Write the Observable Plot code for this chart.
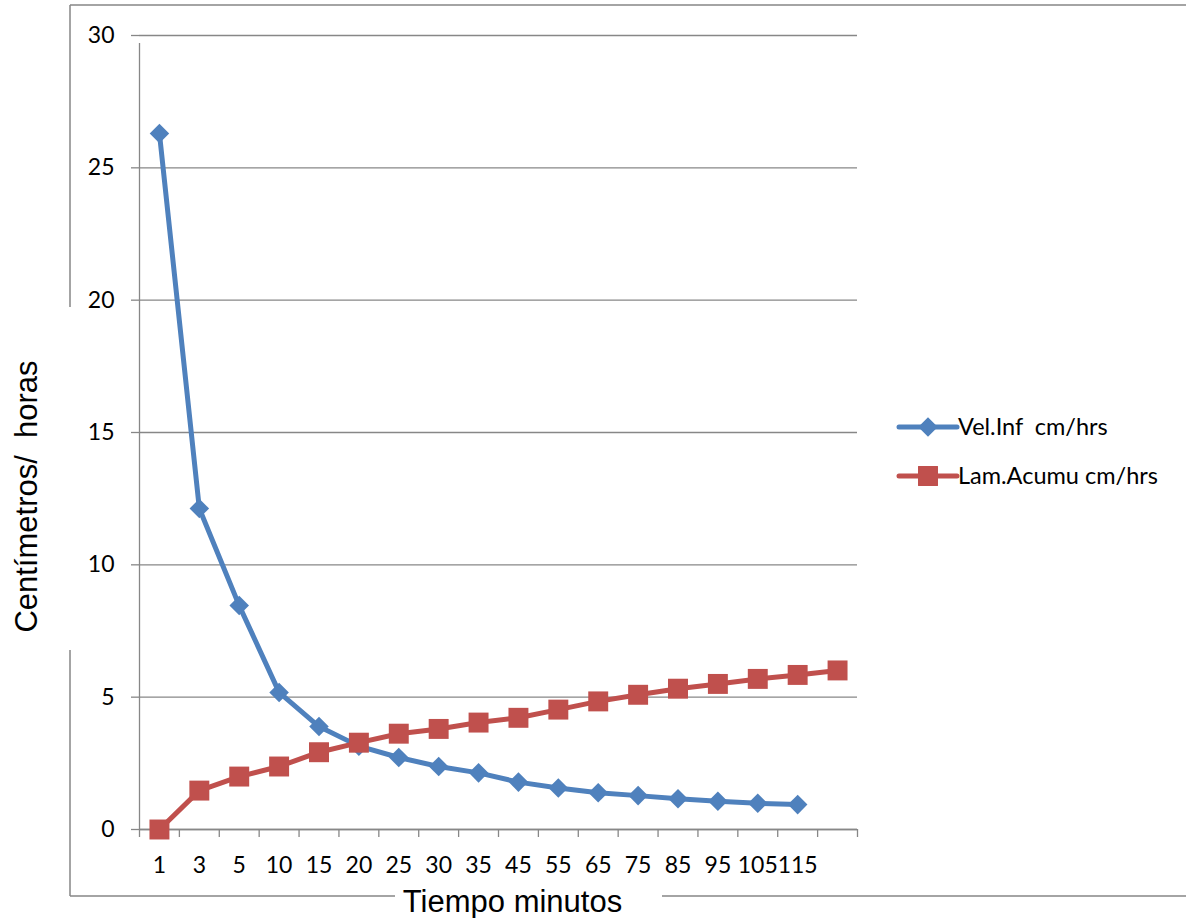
<!DOCTYPE html>
<html><head><meta charset="utf-8">
<script src="https://cdn.jsdelivr.net/npm/d3@7"></script>
<script src="https://cdn.jsdelivr.net/npm/@observablehq/plot@0.6"></script>
<style>
body{margin:0;background:#fff;}
#wrap{position:relative;width:1186px;height:918px;overflow:hidden;background:#fff;}
#wrap svg{position:absolute;left:0;top:0;}
</style></head><body><div id="wrap"></div>
<script>
const categories = ["1","3","5","10","15","20","25","30","35","45","55","65","75","85","95","105","115",""];
const velInf = [26.3,12.13,8.46,5.18,3.89,3.15,2.72,2.38,2.14,1.79,1.57,1.39,1.28,1.16,1.07,0.99,0.94];
const lamAcumu = [0,1.47,2.0,2.38,2.92,3.28,3.62,3.80,4.04,4.22,4.53,4.84,5.09,5.32,5.50,5.69,5.84,6.01];
const seriesNames = ["Vel.Inf  cm/hrs","Lam.Acumu cm/hrs"];
const yTicks = [0,5,10,15,20,25,30];
const xTitle = "Tiempo minutos";
const yTitle = "Centímetros/  horas";
const colors = ["#4F81BD","#C0504D"];
const gray = "#878787";

const blue = velInf.map((v,i)=>({i:i+0.5, v}));
const red = lamAcumu.map((v,i)=>({i:i+0.5, v}));

const chart = Plot.plot({
  width:1186, height:918,
  marginLeft:139, marginRight:329, marginTop:35, marginBottom:89,
  style:{fontFamily:"Lato, sans-serif", fontSize:"23px", color:"#000", background:"transparent", overflow:"visible"},
  x:{type:"linear", domain:[0,categories.length], axis:null},
  y:{domain:[0,30], axis:null},
  marks:[
    Plot.gridY(yTicks, {stroke:gray, strokeOpacity:1, strokeWidth:1.3}),
    Plot.axisY(yTicks, {tickSize:8, tickPadding:17, stroke:gray, strokeWidth:1.3, fill:"#000", fontSize:23, label:null}),
    Plot.ruleX([0], {y1:0, y2:30, stroke:gray, strokeWidth:1.3, insetBottom:-8}),
    Plot.ruleY([0], {stroke:gray, strokeWidth:1.3}),
    Plot.axisX(d3.range(categories.length+1), {tickSize:8, stroke:gray, strokeWidth:1.3, tickFormat:()=>"", label:null}),
    Plot.axisX(d3.range(categories.length).map(i=>i+0.5), {tickSize:0, tickPadding:27, fill:"#000", fontSize:23, tickFormat:d=>categories[Math.floor(d)], label:null}),
    Plot.line(blue, {x:"i", y:"v", stroke:colors[0], strokeWidth:5}),
    Plot.line(red, {x:"i", y:"v", stroke:colors[1], strokeWidth:5}),
    Plot.dot(blue, {x:"i", y:"v", symbol:"diamond2", r:8.8, fill:colors[0]}),
    Plot.dot(red, {x:"i", y:"v", symbol:"square2", r:12.7, fill:colors[1]})
  ]
});
const wrap = document.getElementById("wrap");
wrap.appendChild(chart);

// chart area border, axis titles and legend
const ov = d3.select(wrap).append("svg").attr("width",1186).attr("height",918).style("pointer-events","none");
const border = "M70,5H1186M70,5V307M70,650V896M70,896H395M662,896H1186";
ov.append("path").attr("d",border).attr("fill","none").attr("stroke",gray).attr("stroke-width",1.5);
const titleFont = "'Liberation Sans', Arial, sans-serif";
ov.append("text").attr("transform","translate(37,496.5) rotate(-90)").attr("text-anchor","middle")
  .attr("font-family",titleFont).attr("font-size",31).attr("fill","#000")
  .style("white-space","pre").text(yTitle);
ov.append("text").attr("x",512.5).attr("y",912).attr("text-anchor","middle")
  .attr("font-family",titleFont).attr("font-size",31).attr("fill","#000").text(xTitle);
const legY = [427, 476];
seriesNames.forEach((name,k)=>{
  const g = ov.append("g").attr("transform",`translate(0,${legY[k]})`);
  g.append("line").attr("x1",899).attr("x2",957).attr("y1",0).attr("y2",0)
    .attr("stroke",colors[k]).attr("stroke-width",5).attr("stroke-linecap","round");
  const sym = k===0 ? d3.symbol(d3.symbolDiamond2, Math.PI*8.8*8.8) : d3.symbol(d3.symbolSquare2, Math.PI*12.7*12.7);
  g.append("path").attr("d",sym()).attr("transform","translate(928,0)").attr("fill",colors[k]);
  g.append("text").attr("x",958).attr("y",0).attr("dy","0.35em").attr("font-family","Lato, sans-serif")
    .attr("font-size",23.5).attr("fill","#000").style("white-space","pre").text(name);
});
</script></body></html>
